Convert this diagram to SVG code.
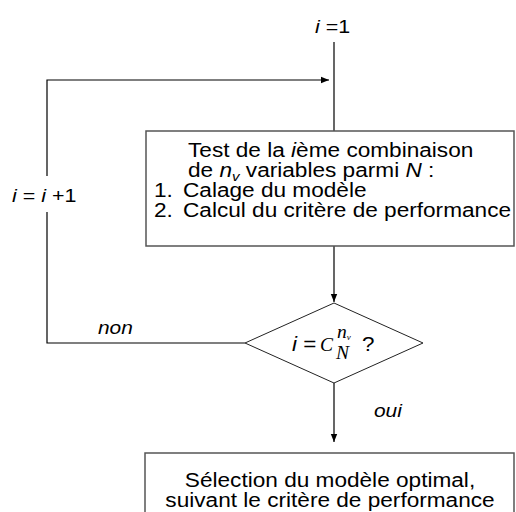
<svg xmlns="http://www.w3.org/2000/svg" width="516" height="512" viewBox="0 0 516 512">
<defs>
<marker id="arr" viewBox="0 0 10 10" refX="10" refY="5" markerWidth="8" markerHeight="8" markerUnits="userSpaceOnUse" orient="auto">
<path d="M0,1 L10,5 L0,9 z" fill="#000"/>
</marker>
</defs>
<style>
text{font-family:"Liberation Sans",Arial,sans-serif;font-size:19.5px;fill:#000}
.lbl{font-size:19px}
.it{font-style:italic}
.box{fill:#fff;stroke:#555;stroke-width:1.5}
.dia{fill:#fff;stroke:#222;stroke-width:1}
.con{fill:none;stroke:#000;stroke-width:1.2}
.math{font-family:"Liberation Serif","Times New Roman",serif;font-style:italic}
</style>
<rect width="516" height="512" fill="#fff"/>
<g id="connectors">
<line class="con" x1="334" y1="42" x2="334" y2="131"/>
<polyline class="con" points="245,343 47,343 47,80 329,80" marker-end="url(#arr)"/>
<line class="con" x1="334" y1="246" x2="334" y2="302" marker-end="url(#arr)"/>
<line class="con" x1="334" y1="383" x2="334" y2="442" marker-end="url(#arr)"/>
</g>
<g id="start">
<text class="lbl" transform="translate(315,33) scale(1.13,1)"><tspan class="it">i</tspan> =1</text>
</g>
<g id="increment">
<rect x="10" y="176" width="70" height="36" fill="#fff"/>
<text class="lbl" transform="translate(12,202) scale(1.13,1)"><tspan class="it">i</tspan> = <tspan class="it">i</tspan> +1</text>
</g>
<g id="test">
<rect class="box" x="146" y="131" width="368" height="115"/>
<text transform="translate(188,157) scale(1.16,1)">Test de la <tspan class="it">i</tspan>ème combinaison</text>
<text transform="translate(188,177) scale(1.16,1)">de <tspan class="it">n</tspan><tspan class="it" font-size="13" dy="4">v</tspan><tspan dy="-4"> variables parmi </tspan><tspan class="it">N</tspan> :</text>
<text transform="translate(154,197) scale(1.16,1)">1.</text>
<text transform="translate(183,197) scale(1.16,1)">Calage du modèle</text>
<text transform="translate(154,217) scale(1.16,1)">2.</text>
<text transform="translate(183,217) scale(1.16,1)">Calcul du critère de performance</text>
</g>
<g id="decision">
<polygon class="dia" points="334,303 423,343 334,383 245,343"/>
<text transform="translate(292,351) scale(1.15,1)"><tspan class="it">i</tspan> = </text>
<text class="math" x="320" y="351" font-size="23">C</text>
<text class="math" x="337" y="338" font-size="12">n<tspan font-size="9" dy="2">v</tspan></text>
<text class="math" x="336" y="359" font-size="13">N</text>
<text transform="translate(362,351) scale(1.15,1)">?</text>
</g>
<g id="labels">
<text class="it lbl" transform="translate(98,334) scale(1.1,1)">non</text>
<text class="it lbl" transform="translate(374,417) scale(1.1,1)">oui</text>
</g>
<g id="select">
<rect class="box" x="145" y="453" width="369" height="70"/>
<text text-anchor="middle" transform="translate(330,487) scale(1.16,1)">Sélection du modèle optimal,</text>
<text text-anchor="middle" transform="translate(330,507) scale(1.16,1)">suivant le critère de performance</text>
</g>
</svg>
